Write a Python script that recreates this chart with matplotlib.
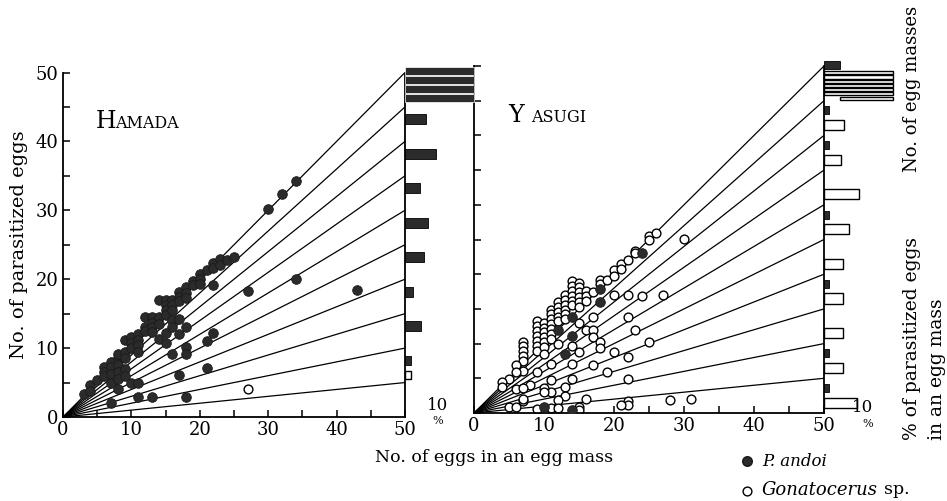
import matplotlib
matplotlib.use("Agg")
import matplotlib.pyplot as plt

plt.rcParams['font.family'] = 'DejaVu Serif'

# fan lines: % parasitized classes (line ends at x = 50)
pct_lines = [10, 20, 30, 40, 50, 60, 70, 80, 90, 100]

# HAMADA  (x = eggs in mass, y = parasitized eggs)
ham_andoi = [
    (3, 3.3), (4, 4.6), (4, 3.8), (5, 5.3), (6, 7.2), (6, 6.5), (6, 6.0),
    (7, 8.0), (7, 7.3), (7, 6.2), (7, 5.0), (8, 8.6), (8, 9.2), (8, 7.5),
    (8, 6.5), (8, 5.5), (8, 4.0), (9, 9.5), (9, 8.5), (9, 7.0), (9, 6.0),
    (9, 11.2), (10, 11.6), (10, 10.8), (10, 10.0), (10, 5.0), (11, 12.1),
    (11, 11.2), (11, 10.5), (11, 9.4), (11, 5.0), (12, 13.0), (12, 12.5),
    (12, 14.5), (13, 14.5), (13, 13.6), (13, 13.0), (13, 12.3), (14, 14.5),
    (14, 13.5), (14, 11.3), (14, 17.0), (15, 17.0), (15, 16.3), (15, 15.5),
    (15, 14.8), (15, 12.2), (15, 10.7), (16, 17.0), (16, 16.2), (16, 15.5),
    (16, 14.1), (16, 13.1), (16, 9.2), (17, 18.2), (17, 17.4), (17, 16.8),
    (17, 14.2), (17, 12.1), (17, 6.1), (18, 18.8), (18, 18.0), (18, 17.3),
    (18, 13.0), (18, 10.1), (18, 9.1), (18, 2.9), (19, 19.8), (19, 19.2),
    (20, 20.8), (20, 20.0), (20, 19.3), (21, 21.3), (21, 11.1), (21, 7.1),
    (22, 22.3), (22, 21.6), (22, 19.1), (22, 12.2), (23, 23.0), (23, 22.0),
    (24, 22.8), (25, 23.2), (27, 18.3), (30, 30.2), (32, 32.4), (34, 34.2),
    (34, 20.1), (43, 18.4), (7, 2.0), (11, 2.9), (13, 2.9),
]
ham_gona = [(27, 4.1)]

# YASUGI
yas_andoi = [(24, 23.1), (18, 17.9), (18, 16.0), (14, 13.8), (14, 11.1),
             (12, 11.9), (13, 8.5), (10, 0.9), (14, 0.5)]
yas_gona = [
    (7, 10.3), (7, 9.6), (7, 8.9), (7, 8.2), (7, 7.5), (7, 6.0),
    (9, 13.2), (9, 12.5), (9, 11.8), (9, 11.1), (9, 10.4), (9, 9.7), (9, 9.0),
    (10, 13.0), (10, 12.3), (10, 11.6), (10, 10.9), (10, 10.2), (10, 9.5), (10, 8.5),
    (11, 14.9), (11, 14.2), (11, 13.5), (11, 12.8), (11, 12.1), (11, 11.4), (11, 10.7),
    (12, 16.0), (12, 15.3), (12, 14.6), (12, 13.9), (12, 13.2), (12, 10.0),
    (13, 17.0), (13, 16.3), (13, 15.6), (13, 14.9), (13, 14.2), (13, 13.5),
    (14, 19.0), (14, 18.3), (14, 17.6), (14, 16.9), (14, 16.2), (14, 15.5), (14, 9.6),
    (15, 18.8), (15, 18.1), (15, 17.4), (15, 16.7), (15, 16.0), (15, 15.3),
    (15, 12.9), (15, 8.8), (16, 17.6), (16, 16.9), (16, 16.2), (16, 11.9),
    (17, 17.4), (17, 13.8), (17, 12.0), (17, 11.0), (17, 6.9),
    (18, 19.1), (18, 18.6), (18, 10.2), (18, 9.3), (19, 19.1),
    (20, 20.6), (20, 19.8), (20, 17.0), (20, 8.8), (21, 21.5), (21, 20.8),
    (22, 22.1), (22, 17.0), (22, 13.8), (22, 8.0), (22, 4.9), (22, 1.7),
    (22, 1.2), (21, 1.2), (23, 23.4), (23, 23.0), (23, 11.9), (25, 25.5),
    (25, 24.9), (24, 16.9), (25, 10.3), (26, 25.9), (27, 17.0), (30, 25.1),
    (28, 1.9), (31, 2.0), (19, 5.9), (14, 7.0), (14, 4.9), (13, 3.8),
    (13, 2.5), (16, 2.0), (15, 0.9), (15, 0.4), (12, 1.9), (11, 7.0),
    (11, 4.8), (11, 3.0), (10, 3.6), (10, 3.0), (11, 0.7), (12, 0.7),
    (9, 5.9), (9, 0.6), (8, 4.0), (7, 1.7), (6, 3.5), (6, 6.9), (6, 5.9),
    (5, 4.9), (4, 4.5), (4, 3.7), (5, 0.8), (6, 0.8), (7, 3.6), (7, 2.0),
]

# histograms: % of egg masses per class (classes 10..90 %)
hist_classes = [10, 20, 30, 40, 50, 60, 70, 80, 90]
ham_hist_andoi = [0, 1.8, 4.8, 2.5, 5.7, 6.9, 4.5, 9.4, 6.4]
ham_hist_gona = [0, 1.8, 0, 0, 0, 0, 0, 0, 0]
yas_hist_andoi = [1.5, 1.5, 0, 1.5, 0, 1.5, 0, 1.5, 1.5]
yas_hist_gona = [10.0, 5.8, 5.8, 5.8, 5.8, 7.6, 10.6, 5.2, 6.1]
# 100 % class, too long: wrapped into rows (y, start, length)
ham_top_andoi = [(50.2, 0, 20.9), (48.85, 0, 20.9), (47.65, 0, 20.9), (46.35, 0, 20.9)]
yas_top_andoi = [(50.1, 0, 4.8)]
yas_top_gona = [(49.1, 0, 20.9), (48.4, 0, 20.9), (47.8, 0, 20.9), (47.2, 0, 20.9),
                (46.6, 0, 20.9), (46.0, 0, 20.9), (45.3, 4.8, 16.1)]

W, H = 947, 501
fig = plt.figure(figsize=(W / 100, H / 100), dpi=100)


def box(x0, x1, ytop, ybot):
    return [x0 / W, 1 - ybot / H, (x1 - x0) / W, (ybot - ytop) / H]


DARK = '#2b2b2b'


def panel(rect, andoi, gona, ylabels):
    ax = fig.add_axes(rect)
    ax.set_xlim(0, 50)
    ax.set_ylim(0, 50)
    for p in pct_lines:
        ax.plot([0, 50], [0, 50 * p / 100], color='black', lw=0.9, zorder=1)
    if andoi:
        ax.scatter([a[0] for a in andoi], [a[1] for a in andoi], s=48,
                   color=DARK, edgecolors='#1a1a1a', linewidths=0.6, zorder=3)
    if gona:
        ax.scatter([g[0] for g in gona], [g[1] for g in gona], s=40,
                   facecolors='white', edgecolors='black', linewidths=1.0, zorder=2)
    ax.spines['top'].set_visible(False)
    for s in ['left', 'bottom', 'right']:
        ax.spines[s].set_linewidth(1.3)
    ax.set_xticks(range(0, 51, 10))
    ax.set_xticks(range(5, 50, 10), minor=True)
    ax.set_yticks(range(0, 51, 10))
    ax.set_yticks(range(5, 50, 10), minor=True)
    ax.tick_params(which='both', direction='in', labelsize=13, top=False, right=False)
    ax.tick_params(which='major', length=5, width=1.1, pad=3)
    ax.tick_params(which='minor', length=5, width=1.1)
    if not ylabels:
        ax.set_yticklabels([])
    ax.patch.set_alpha(0)
    return ax


def histo(rect, xmax, andoi, gona, off_a, off_g, h_a, h_g):
    hx = fig.add_axes(rect)
    hx.set_xlim(0, xmax)
    hx.set_ylim(0, 50)
    hx.axis('off')
    ya = [c / 2 - off_a for c, v in zip(hist_classes, andoi) if v > 0]
    va = [v for v in andoi if v > 0]
    yg = [c / 2 - off_g for c, v in zip(hist_classes, gona) if v > 0]
    vg = [v for v in gona if v > 0]
    hx.barh(ya, va, height=h_a, color=DARK, edgecolor='black', lw=0.6, clip_on=False)
    hx.barh(yg, vg, height=h_g, color='white', edgecolor='black', lw=1.0, clip_on=False)
    return hx


ax1 = panel(box(63, 405, 72.5, 417), ham_andoi, ham_gona, True)
ax2 = panel(box(474, 824, 66, 413), yas_andoi, yas_gona, False)

h1 = histo(box(405, 474, 72.5, 417), 69 / 3.3,
           ham_hist_andoi, ham_hist_gona, 1.8, 3.9, 1.45, 1.1)
h2 = histo(box(824, 895, 66, 413), 71 / 3.3,
           yas_hist_andoi, yas_hist_gona, 1.4, 3.5, 1.15, 1.45)

for y, x0, w in ham_top_andoi:
    h1.barh(y, w, left=x0, height=1.15, color=DARK, edgecolor='white', lw=0.5, clip_on=False)
for y, x0, w in yas_top_andoi:
    h2.barh(y, w, left=x0, height=1.1, color=DARK, edgecolor='black', lw=0.6, clip_on=False)
for y, x0, w in yas_top_gona:
    h2.barh(y, w, left=x0, height=0.5, color='white', edgecolor='black', lw=1.0, clip_on=False)

ax1.set_ylabel('No. of parasitized eggs', fontsize=14, labelpad=6)

# overlay for free text
ov = fig.add_axes([0, 0, 1, 1])
ov.set_xlim(0, W)
ov.set_ylim(H, 0)
ov.axis('off')
ov.patch.set_alpha(0)

ov.text(96, 128, 'H', fontsize=17, va='baseline', ha='left')
ov.text(115, 128, 'AMADA', fontsize=11.5, va='baseline', ha='left')
ov.text(508, 122, 'Y', fontsize=17, va='baseline', ha='left')
ov.text(531, 122, 'ASUGI', fontsize=11.5, va='baseline', ha='left')

ov.text(438, 405, '10', fontsize=12, ha='center', va='center')
ov.text(438, 421, '%', fontsize=8, ha='center', va='center')
ov.text(863, 407, '10', fontsize=12, ha='center', va='center')
ov.text(868, 424, '%', fontsize=8, ha='center', va='center')

ov.text(494, 458, 'No. of eggs in an egg mass', fontsize=12.5, ha='center', va='center')

ov.text(912, 172, 'No. of egg masses', fontsize=13, rotation=90, ha='center', va='bottom')
ov.text(912, 440, '% of parasitized eggs', fontsize=13.5, rotation=90, ha='center', va='bottom')
ov.text(937, 440, 'in an egg mass', fontsize=13.5, rotation=90, ha='center', va='bottom')

ov.scatter([747], [461], s=48, color=DARK, edgecolors='#1a1a1a')
ov.text(762, 461, 'P. andoi', fontsize=12, style='italic', va='center')
ov.scatter([747], [491], s=40, facecolors='white', edgecolors='black', linewidths=1.0)
ov.text(762, 490, 'Gonatocerus', fontsize=13, style='italic', va='center')
ov.text(884, 490, 'sp.', fontsize=12.5, va='center')

fig.savefig('out.png', dpi=100)
